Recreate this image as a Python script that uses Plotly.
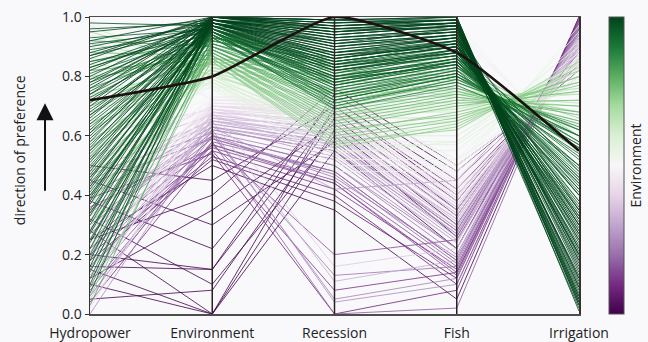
import plotly.graph_objects as go
from plotly.colors import sample_colorscale
import plotly.express as px

categories = ["Hydropower", "Environment", "Recession", "Fish", "Irrigation"]
y_ticks = [0.0, 0.2, 0.4, 0.6, 0.8, 1.0]

# --- solutions, one value per objective (groups of similar solutions) ---
hydropower = [
    # dark green
    0.98,0.95,0.93,0.92,0.90,0.89,0.88,0.87,0.86,0.85,
    0.84,0.83,0.82,0.81,0.80,0.79,0.78,0.77,0.76,0.75,
    0.74,0.73,0.72,0.70,0.69,0.68,0.66,0.65,0.63,0.62,
    0.60,0.58,0.57,0.55,0.53,0.52,0.50,0.48,0.46,0.44,
    0.42,0.40,0.38,0.35,0.33,0.30,0.27,0.24,0.20,0.16,
    0.96,0.91,0.87,0.83,0.78,0.74,0.71,0.67,0.64,0.61,
    0.59,0.56,0.54,0.51,0.49,0.47,0.45,0.43,0.41,0.39,
    0.37,0.34,0.31,0.28,0.25,0.22,0.18,0.14,0.10,0.07,
    # medium green
    0.92,0.88,0.85,0.82,0.79,0.76,0.73,0.70,0.67,0.64,
    0.61,0.58,0.55,0.52,0.49,0.46,0.43,0.40,0.37,0.34,
    0.31,0.28,0.25,0.22,0.19,0.15,0.12,0.09,0.06,0.03,
    # light / white
    0.97,0.94,0.91,0.88,0.84,0.80,0.76,0.72,0.68,0.64,
    0.60,0.56,0.52,0.48,0.44,0.40,0.99,0.86,0.70,0.58,
    0.95,0.90,0.82,0.74,0.66,0.62,0.54,0.46,0.38,0.30,
    # purple
    0.00,0.02,0.04,0.05,0.07,0.09,0.10,0.12,0.14,0.15,
    0.17,0.18,0.20,0.22,0.23,0.25,0.26,0.28,0.30,0.31,
    0.33,0.35,0.36,0.38,0.40,0.42,0.44,0.46,0.48,0.50,
    0.53,0.56,0.60,0.25,0.20,0.98,0.96,0.94,0.35,0.45,
    0.03,0.06,0.11,0.13,0.16,0.19,0.21,0.24,0.27,0.29,
    0.32,0.34,0.37,0.39,0.41,0.43,0.47,0.52,0.99,0.92,
    # low environment
    0.10,0.15,0.28,0.05,0.20,0.32,0.16,0.38,0.45,0.12,0.25,0.50,
    # low recession
    0.12,0.18,0.22,0.27,0.30,0.34,0.08,0.40,
]
environment = [
    0.97,0.99,0.96,1.00,0.98,0.95,0.99,0.97,1.00,0.94,
    0.98,0.96,0.99,0.95,1.00,0.97,0.93,0.98,0.99,0.96,
    1.00,0.94,0.97,0.99,0.95,0.98,1.00,0.96,0.93,0.99,
    0.97,1.00,0.95,0.98,0.94,0.99,0.96,1.00,0.97,0.93,
    0.98,0.95,1.00,0.96,0.99,0.94,0.97,0.98,0.95,0.99,
    0.98,0.96,1.00,0.97,0.99,0.95,1.00,0.98,0.96,0.99,
    0.97,1.00,0.95,0.98,0.99,0.96,1.00,0.97,0.94,0.99,
    0.98,0.96,1.00,0.97,0.95,0.99,0.98,0.96,1.00,0.97,
    0.90,0.87,0.92,0.86,0.89,0.91,0.85,0.88,0.93,0.87,
    0.90,0.86,0.92,0.89,0.85,0.91,0.88,0.93,0.86,0.90,
    0.87,0.92,0.89,0.85,0.91,0.88,0.93,0.90,0.86,0.89,
    0.80,0.78,0.83,0.77,0.81,0.84,0.79,0.76,0.82,0.80,
    0.78,0.85,0.77,0.81,0.79,0.83,0.76,0.82,0.78,0.80,
    0.84,0.79,0.86,0.81,0.78,0.85,0.80,0.83,0.86,0.82,
    0.62,0.70,0.55,0.66,0.73,0.58,0.68,0.64,0.75,0.60,
    0.71,0.52,0.67,0.63,0.74,0.57,0.69,0.65,0.72,0.61,
    0.66,0.70,0.56,0.74,0.63,0.68,0.59,0.72,0.65,0.70,
    0.67,0.73,0.69,0.50,0.53,0.76,0.74,0.72,0.60,0.64,
    0.68,0.60,0.72,0.65,0.57,0.70,0.63,0.74,0.59,0.67,
    0.71,0.62,0.69,0.54,0.73,0.66,0.61,0.70,0.75,0.73,
    0.00,0.00,0.00,0.08,0.15,0.10,0.15,0.22,0.30,0.35,0.40,0.45,
    0.58,0.62,0.55,0.65,0.60,0.68,0.57,0.63,
]
recession = [
    0.92,0.97,0.85,0.99,0.88,0.80,0.95,0.83,0.98,0.76,
    0.90,0.82,0.96,0.78,0.99,0.87,0.72,0.93,0.94,0.81,
    0.97,0.75,0.86,0.91,0.79,0.89,0.98,0.84,0.70,0.95,
    0.88,0.96,0.77,0.92,0.74,0.93,0.83,0.99,0.86,0.71,
    0.90,0.80,0.97,0.82,0.94,0.76,0.85,0.91,0.79,0.95,
    0.89,0.81,0.96,0.84,0.93,0.74,0.99,0.87,0.78,0.92,
    0.82,0.97,0.73,0.88,0.94,0.79,0.98,0.85,0.69,0.91,
    0.86,0.77,0.95,0.83,0.72,0.90,0.87,0.80,0.96,0.84,
    0.78,0.65,0.85,0.60,0.72,0.80,0.58,0.68,0.88,0.63,
    0.75,0.61,0.83,0.70,0.56,0.79,0.66,0.86,0.62,0.74,
    0.64,0.82,0.71,0.57,0.77,0.67,0.84,0.73,0.59,0.69,
    0.70,0.62,0.78,0.55,0.66,0.80,0.60,0.52,0.74,0.68,
    0.58,0.82,0.50,0.72,0.64,0.76,0.48,0.75,0.57,0.69,
    0.74,0.60,0.80,0.65,0.54,0.78,0.62,0.70,0.84,0.67,
    0.55,0.68,0.42,0.60,0.75,0.48,0.65,0.58,0.78,0.50,
    0.70,0.38,0.62,0.56,0.72,0.45,0.66,0.59,0.73,0.52,
    0.63,0.69,0.44,0.76,0.57,0.64,0.47,0.71,0.61,0.67,
    0.54,0.74,0.62,0.35,0.40,0.80,0.77,0.72,0.46,0.58,
    0.60,0.50,0.70,0.57,0.44,0.66,0.53,0.74,0.48,0.62,
    0.69,0.55,0.64,0.00,0.72,0.59,0.05,0.67,0.78,0.75,
    0.62,0.70,0.55,0.66,0.74,0.60,0.68,0.72,0.58,0.64,0.76,0.70,
    0.00,0.04,0.08,0.11,0.13,0.16,0.20,0.42,
]
fish = [
    0.95,0.99,0.90,0.97,0.93,0.86,0.98,0.88,1.00,0.83,
    0.94,0.87,0.96,0.85,0.99,0.91,0.80,0.95,0.97,0.89,
    0.98,0.82,0.92,0.96,0.84,0.93,0.99,0.90,0.79,0.97,
    0.92,0.98,0.85,0.95,0.81,0.96,0.88,1.00,0.91,0.78,
    0.94,0.86,0.99,0.87,0.97,0.83,0.90,0.94,0.84,0.98,
    0.93,0.87,0.98,0.89,0.96,0.82,1.00,0.92,0.85,0.95,
    0.88,0.99,0.81,0.91,0.97,0.86,0.99,0.90,0.77,0.94,
    0.91,0.84,0.97,0.89,0.80,0.93,0.90,0.85,0.98,0.88,
    0.85,0.72,0.90,0.66,0.80,0.88,0.62,0.75,0.93,0.70,
    0.83,0.68,0.89,0.78,0.63,0.86,0.73,0.91,0.67,0.81,
    0.71,0.87,0.79,0.64,0.84,0.74,0.92,0.80,0.65,0.76,
    0.70,0.62,0.76,0.55,0.66,0.78,0.60,0.52,0.73,0.68,
    0.58,0.80,0.50,0.71,0.64,0.75,0.48,0.74,0.57,0.69,
    0.76,0.63,0.82,0.69,0.58,0.79,0.65,0.74,0.85,0.72,
    0.25,0.40,0.15,0.32,0.50,0.18,0.36,0.28,0.55,0.20,
    0.45,0.12,0.34,0.26,0.48,0.16,0.38,0.30,0.52,0.22,
    0.35,0.42,0.14,0.56,0.27,0.37,0.17,0.46,0.31,0.39,
    0.24,0.50,0.33,0.05,0.10,0.98,0.97,0.95,0.19,0.29,
    0.34,0.22,0.44,0.29,0.13,0.40,0.24,0.51,0.18,0.36,
    0.43,0.27,0.39,0.08,0.47,0.32,0.12,0.41,0.96,0.93,
    0.30,0.42,0.22,0.35,0.48,0.26,0.38,0.45,0.28,0.33,0.50,0.40,
    0.02,0.10,0.14,0.18,0.16,0.22,0.25,0.45,
]
irrigation = [
    0.35,0.10,0.48,0.02,0.30,0.55,0.15,0.42,0.05,0.58,
    0.25,0.45,0.12,0.50,0.04,0.33,0.60,0.20,0.18,0.40,
    0.08,0.56,0.28,0.22,0.52,0.32,0.06,0.38,0.62,0.14,
    0.27,0.09,0.47,0.24,0.57,0.16,0.43,0.03,0.31,0.63,
    0.26,0.46,0.07,0.44,0.19,0.53,0.36,0.21,0.49,0.11,
    0.13,0.40,0.05,0.34,0.18,0.50,0.01,0.23,0.46,0.17,
    0.37,0.06,0.54,0.29,0.12,0.41,0.03,0.32,0.60,0.20,
    0.27,0.44,0.09,0.35,0.56,0.22,0.30,0.42,0.04,0.33,
    0.50,0.70,0.30,0.80,0.60,0.40,0.85,0.65,0.20,0.75,
    0.55,0.78,0.35,0.62,0.83,0.45,0.68,0.25,0.77,0.58,
    0.72,0.38,0.60,0.82,0.48,0.67,0.28,0.57,0.80,0.64,
    0.72,0.82,0.65,0.88,0.78,0.62,0.85,0.92,0.70,0.75,
    0.86,0.60,0.95,0.74,0.80,0.68,0.97,0.71,0.84,0.76,
    0.68,0.84,0.62,0.78,0.90,0.66,0.82,0.74,0.60,0.76,
    0.95,0.85,0.98,0.90,0.80,0.97,0.88,0.93,0.78,0.96,
    0.83,0.99,0.91,0.94,0.81,0.97,0.87,0.92,0.79,0.95,
    0.89,0.84,0.98,0.76,0.93,0.86,0.97,0.82,0.90,0.87,
    0.94,0.80,0.91,1.00,0.99,0.52,0.53,0.55,0.96,0.92,
    0.90,0.96,0.85,0.93,0.99,0.87,0.95,0.80,0.97,0.89,
    0.84,0.94,0.86,1.00,0.83,0.91,0.98,0.85,0.54,0.57,
    0.92,0.85,0.97,0.90,0.82,0.95,0.88,0.84,0.94,0.91,0.80,0.86,
    0.99,0.97,0.96,0.93,0.95,0.92,0.90,0.88,
]

# highlighted compromise solution
highlight = [0.72, 0.80, 1.00, 0.88, 0.55]

CMIN, CMAX = 0.5, 0.98
scale = px.colors.diverging.PRGn

fig = go.Figure()
xs = list(range(len(categories)))
order = sorted(range(len(environment)), key=lambda k: environment[k])
for k in order:
    vals = [hydropower[k], environment[k], recession[k], fish[k], irrigation[k]]
    t = min(max((environment[k] - CMIN) / (CMAX - CMIN), 0.0), 1.0)
    col = sample_colorscale(scale, [t])[0]
    fig.add_trace(go.Scatter(x=xs, y=vals, mode="lines",
                             line=dict(color=col, width=1.0),
                             opacity=0.8, hoverinfo="skip", showlegend=False))

fig.add_trace(go.Scatter(x=xs, y=highlight, mode="lines",
                         line=dict(color="#1c1010", width=2.6, shape="spline", smoothing=0.5),
                         hoverinfo="skip", showlegend=False))

# colorbar
fig.add_trace(go.Scatter(x=[None], y=[None], mode="markers", showlegend=False, hoverinfo="skip",
                         marker=dict(color=[CMIN], cmin=CMIN, cmax=CMAX, colorscale=scale, showscale=True,
                                     colorbar=dict(thickness=15, thicknessmode="pixels", len=1, lenmode="fraction",
                                                   y=0.5, yanchor="middle", x=1.061, xanchor="left",
                                                   xpad=0, ypad=0, outlinewidth=1, outlinecolor="#555",
                                                   showticklabels=False, ticks="",
                                                   title=dict(text="Environment", side="right",
                                                              font=dict(size=14, color="#222"))))))

for i in range(1, len(categories) - 1):
    fig.add_shape(type="line", x0=i, x1=i, y0=0, y1=1, xref="x", yref="y",
                  line=dict(color="#2a2020", width=1.5))

fig.add_annotation(text="direction of preference", textangle=-90, x=-0.145, y=0.552,
                   xref="paper", yref="paper", showarrow=False, xanchor="center", yanchor="middle",
                   font=dict(size=14, color="#222"))
fig.add_annotation(text="", x=-0.092, y=0.71, xref="paper", yref="paper", showarrow=True,
                   ax=0, ay=89, arrowhead=2, arrowsize=1.7, arrowwidth=2, arrowcolor="#111", standoff=0)

bg = "#f9f9fc"
fig.update_layout(
    width=648, height=342, margin=dict(l=90, r=69, t=17, b=28, autoexpand=False),
    paper_bgcolor=bg, plot_bgcolor=bg,
    font=dict(family="Open Sans", size=14, color="#222"),
    xaxis=dict(range=[0, 4], tickvals=xs, ticktext=categories, showgrid=False, zeroline=False,
               showline=True, mirror=True, linecolor="#4d4d4d", linewidth=1.5, ticks="",
               tickfont=dict(size=14), automargin=False, ticklabelstandoff=6),
    yaxis=dict(range=[0, 1], tickvals=y_ticks, tickformat=".1f", showgrid=False, zeroline=False,
               showline=True, mirror=True, linecolor="#3a3030", linewidth=1.5, ticks="outside",
               ticklen=4, tickcolor="#333", tickfont=dict(size=14), automargin=False),
)

fig.write_html("out.html", config={"displayModeBar": False, "staticPlot": True},
               post_script="document.body.style.margin='0';document.body.style.overflow='hidden';"
                           "document.body.style.background='" + bg + "';")
